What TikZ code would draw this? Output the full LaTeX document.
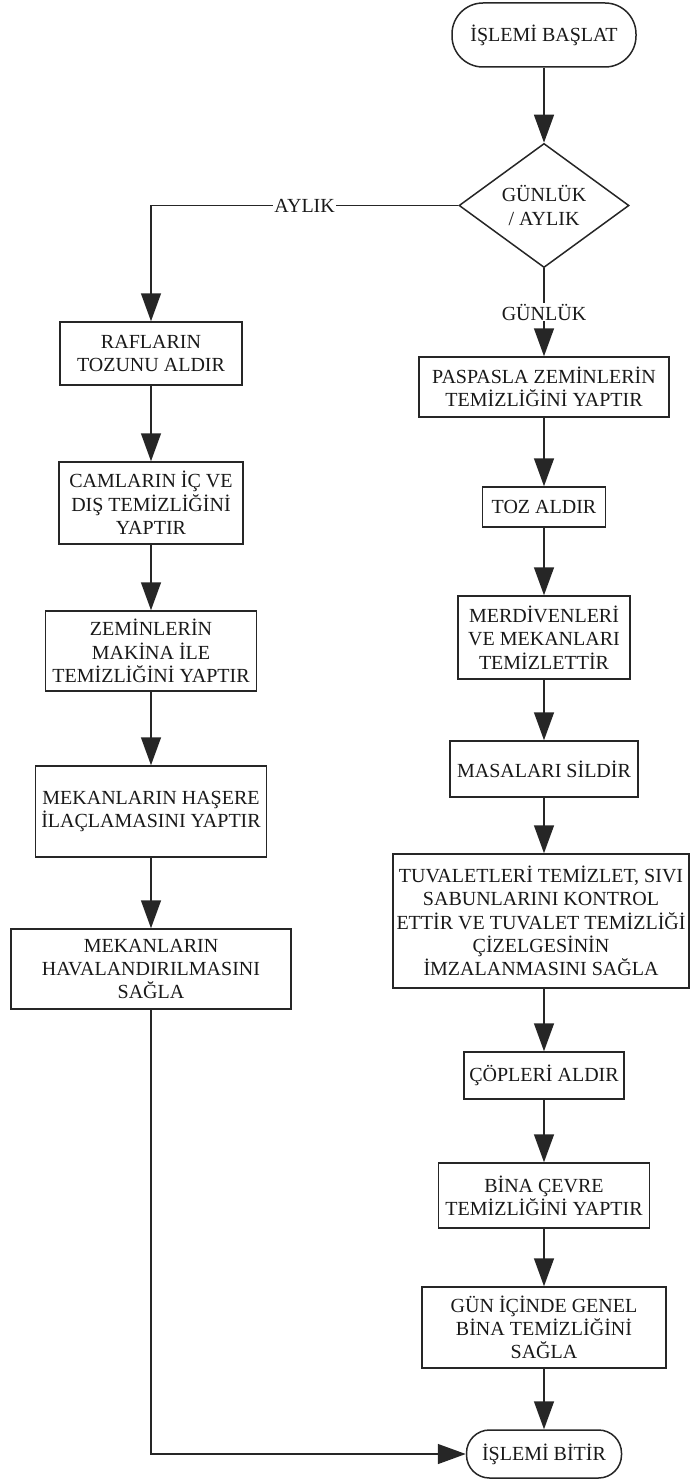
\documentclass[tikz,border=0pt]{standalone}
\usepackage{fontspec}
\setmainfont{Liberation Serif}
\usetikzlibrary{arrows.meta,shapes.geometric}
\begin{document}
\begin{tikzpicture}[x=1pt,y=-1pt,
  every node/.style={font=\fontsize{20}{23.3}\selectfont, text=black!90, align=center, inner sep=0pt},
  stepbox/.style={draw=black!85, line width=1.5pt, rectangle, fill=white},
  term/.style={draw=black!85, line width=1.5pt, rectangle, rounded corners=#1, fill=white},
  dec/.style={draw=black!85, line width=1.5pt, diamond, fill=white},
  lbl/.style={fill=white, inner sep=1pt},
  conn/.style={draw=black!85, line width=1.5pt, -{Triangle[length=28pt,width=20pt]}}]
\useasboundingbox (0,0) rectangle (690,1479);
% right column
\node[term=31pt, minimum width=184pt, minimum height=64pt] (start) at (544,35) {İŞLEMİ BAŞLAT};
\node[dec, minimum width=170pt, minimum height=101pt] (d) at (544,205.5) {GÜNLÜK\\/ AYLIK};
\node[stepbox, minimum width=250pt, minimum height=60pt] (p1) at (544,387) {PASPASLA ZEMİNLERİN\\TEMİZLİĞİNİ YAPTIR};
\node[stepbox, minimum width=123pt, minimum height=40pt] (p2) at (544,507) {TOZ ALDIR};
\node[stepbox, minimum width=172pt, minimum height=83pt] (p3) at (544,637.5) {MERDİVENLERİ\\VE MEKANLARI\\TEMİZLETTİR};
\node[stepbox, minimum width=188pt, minimum height=56pt] (p4) at (544,769) {MASALARI SİLDİR};
\node[stepbox, minimum width=296pt, minimum height=134pt] (p5) at (541,921) {TUVALETLERİ TEMİZLET, SIVI\\SABUNLARINI KONTROL\\ETTİR VE TUVALET TEMİZLİĞİ\\ÇİZELGESİNİN\\İMZALANMASINI SAĞLA};
\node[stepbox, minimum width=160pt, minimum height=47pt] (p6) at (544,1075.5) {ÇÖPLERİ ALDIR};
\node[stepbox, minimum width=211pt, minimum height=65pt] (p7) at (544,1195.5) {BİNA ÇEVRE\\TEMİZLİĞİNİ YAPTIR};
\node[stepbox, minimum width=244pt, minimum height=81pt] (p8) at (544,1327.5) {GÜN İÇİNDE GENEL\\BİNA TEMİZLİĞİNİ\\SAĞLA};
\node[term=23pt, minimum width=155pt, minimum height=48pt] (end) at (544,1454) {İŞLEMİ BİTİR};
% left column
\node[stepbox, minimum width=182pt, minimum height=63pt] (a1) at (151,353.5) {RAFLARIN\\TOZUNU ALDIR};
\node[stepbox, minimum width=184pt, minimum height=82pt] (a2) at (151,503) {CAMLARIN İÇ VE\\DIŞ TEMİZLİĞİNİ\\YAPTIR};
\node[stepbox, minimum width=211pt, minimum height=80pt] (a3) at (151,651) {ZEMİNLERİN\\MAKİNA İLE\\TEMİZLİĞİNİ YAPTIR};
\node[stepbox, minimum width=231pt, minimum height=91pt] (a4) at (151,811.5) {MEKANLARIN HAŞERE\\İLAÇLAMASINI YAPTIR};
\node[stepbox, minimum width=280pt, minimum height=80pt] (a5) at (151,969) {MEKANLARIN\\HAVALANDIRILMASINI\\SAĞLA};
% connectors
\draw[conn] (start) -- (d);
\draw[conn] (d.south) -- node[lbl]{GÜNLÜK} (p1.north);
\draw[conn] (p1) -- (p2);
\draw[conn] (p2) -- (p3);
\draw[conn] (p3) -- (p4);
\draw[conn] (p4) -- (p5.north -| p4.south);
\draw[conn] (p5.south -| p4.south) -- (p6);
\draw[conn] (p6) -- (p7);
\draw[conn] (p7) -- (p8);
\draw[conn] (p8) -- (end);
\draw[conn] (d.west) -| node[lbl, pos=0.25]{AYLIK} (a1.north);
\draw[conn] (a1) -- (a2);
\draw[conn] (a2) -- (a3);
\draw[conn] (a3) -- (a4);
\draw[conn] (a4) -- (a5);
\draw[conn] (a5.south) |- (end.west);
\end{tikzpicture}
\end{document}
